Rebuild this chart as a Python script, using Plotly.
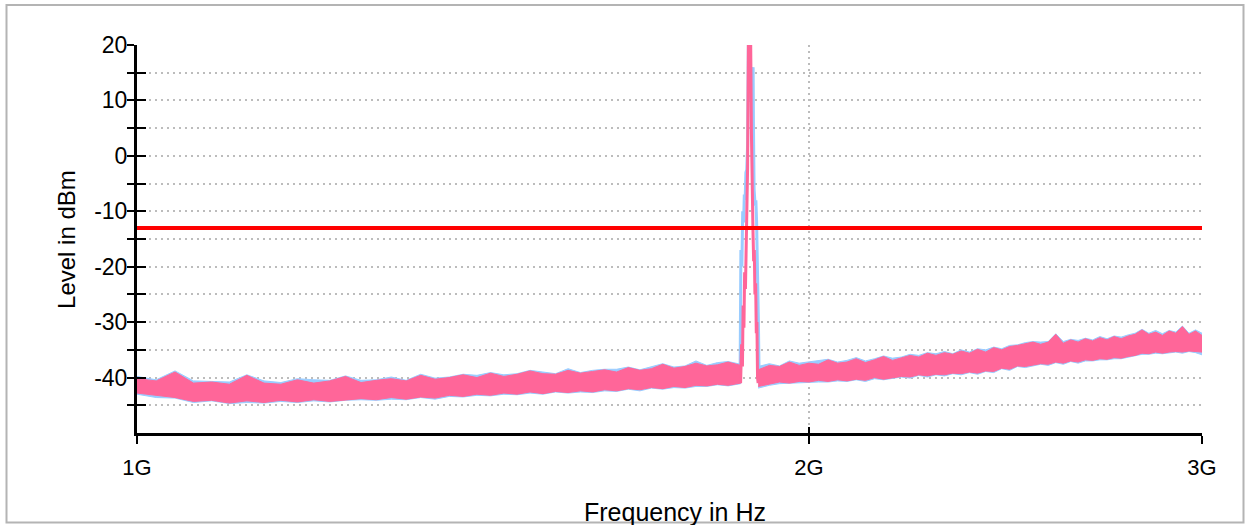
import math
import plotly.graph_objects as go

# Sweep frequencies (GHz) below and above the carrier
freq_low = [1.00, 1.02, 1.04, 1.06, 1.08, 1.10, 1.12, 1.14, 1.16, 1.18,
            1.20, 1.22, 1.24, 1.26, 1.28, 1.30, 1.32, 1.34, 1.36, 1.38,
            1.40, 1.42, 1.44, 1.46, 1.48, 1.50, 1.52, 1.54, 1.56, 1.58,
            1.60, 1.62, 1.64, 1.66, 1.68, 1.70, 1.72, 1.74, 1.76, 1.78,
            1.80, 1.82, 1.84, 1.864]
freq_high = [1.898, 1.92, 1.94, 1.96, 1.98,
             2.00, 2.02, 2.04, 2.06, 2.08, 2.10, 2.12, 2.14, 2.16, 2.18,
             2.20, 2.22, 2.24, 2.26, 2.28, 2.30, 2.32, 2.34, 2.36, 2.38,
             2.40, 2.42, 2.44, 2.46, 2.48, 2.50, 2.52, 2.54, 2.56, 2.58,
             2.60, 2.62, 2.64, 2.66, 2.68, 2.70, 2.72, 2.74, 2.76, 2.78,
             2.80, 2.82, 2.84, 2.86, 2.88, 2.90, 2.92, 2.94, 2.96, 2.98,
             3.00]

# Trace 1 (pink): max / min level of the noise floor in dBm
pink_low_max = [-40.2, -40.6, -39.0, -41.0, -40.8, -41.2, -39.6, -41.0, -41.2, -40.4,
                -41.0, -40.6, -39.8, -40.9, -40.5, -40.2, -40.6, -39.6, -40.3, -40.0,
                -39.5, -40.0, -39.2, -39.8, -39.4, -38.8, -39.3, -39.4, -38.7, -39.2,
                -38.9, -38.6, -39.0, -38.2, -38.7, -38.4, -37.6, -38.3, -38.0, -37.4,
                -37.9, -37.7, -37.2, -37.8]
pink_low_min = [-42.8, -43.2, -43.6, -44.3, -44.1, -44.6, -44.2, -44.5, -44.1, -44.4,
                -44.0, -44.3, -44.0, -43.8, -44.0, -43.6, -43.9, -43.5, -43.7, -43.2,
                -43.4, -43.0, -43.2, -42.8, -43.0, -42.6, -42.9, -42.5, -42.7, -42.4,
                -42.6, -42.2, -42.4, -42.0, -42.2, -41.8, -42.0, -41.6, -41.8, -41.4,
                -41.5, -41.2, -41.4, -41.0]
pink_high_max = [-38.6, -37.8, -38.0, -37.2, -37.8,
                 -37.4, -37.6, -36.8, -37.4, -37.2, -36.6, -37.3, -36.8, -36.2, -36.9,
                 -36.5, -36.0, -36.3, -35.6, -36.0, -35.5, -35.8, -35.2, -35.6, -34.9,
                 -35.4, -34.6, -35.0, -34.4, -34.2, -33.9, -33.6, -34.0, -33.6, -32.2,
                 -33.8, -33.2, -33.6, -33.0, -33.4, -32.8, -33.2, -32.6, -33.0, -32.5,
                 -32.2, -31.4, -32.2, -31.8, -32.4, -31.6, -32.0, -30.8, -32.2, -31.6,
                 -32.4]
pink_high_min = [-41.6, -41.2, -40.8, -41.0, -40.7,
                 -40.8, -40.5, -40.7, -40.4, -40.6, -40.3, -40.5, -40.0, -40.3, -40.0,
                 -39.8, -39.9, -39.5, -39.7, -39.4, -39.5, -39.2, -39.3, -39.0, -39.2,
                 -38.8, -38.9, -38.3, -38.5, -37.9, -38.0, -37.8, -37.5, -37.6, -37.2,
                 -37.4, -37.0, -37.2, -36.8, -36.9, -36.6, -36.7, -36.4, -36.5, -36.2,
                 -36.0, -35.6, -35.7, -35.4, -35.6, -35.4, -35.3, -35.4, -35.2, -35.3,
                 -35.4]

# Trace 2 (blue): max / min level of the noise floor in dBm
blue_low_max = [-39.8, -40.4, -38.8, -40.6, -40.7, -40.8, -39.5, -40.6, -40.9, -40.2,
                -40.4, -40.5, -39.7, -40.5, -40.4, -39.9, -40.5, -39.4, -40.1, -39.9,
                -39.4, -39.6, -39.1, -39.5, -39.3, -38.7, -39.0, -39.3, -38.4, -39.1,
                -38.7, -38.5, -38.5, -38.1, -38.6, -38.0, -37.5, -38.1, -37.9, -37.0,
                -37.8, -37.3, -37.1, -37.6]
blue_low_min = [-43.0, -43.6, -43.7, -44.5, -44.2, -44.7, -44.5, -44.6, -44.3, -44.5,
                -44.2, -44.4, -44.1, -44.0, -44.1, -43.9, -44.0, -43.6, -43.9, -43.4,
                -43.5, -43.2, -43.3, -43.0, -43.1, -42.8, -43.0, -42.6, -42.8, -42.6,
                -42.7, -42.4, -42.5, -42.1, -42.4, -41.9, -42.1, -41.8, -41.9, -41.6,
                -41.6, -41.3, -41.5, -41.1]
blue_high_max = [-38.0, -37.5, -37.9, -37.0, -37.4,
                 -37.2, -37.0, -36.7, -37.2, -36.9, -36.4, -37.0, -36.6, -36.1, -36.5,
                 -36.3, -35.8, -36.0, -35.5, -35.7, -35.3, -35.7, -35.0, -35.4, -34.8,
                 -35.0, -34.5, -34.8, -34.2, -34.1, -33.7, -33.5, -33.6, -33.5, -32.1,
                 -33.5, -33.1, -33.3, -32.9, -33.2, -32.6, -33.0, -32.5, -32.7, -32.3,
                 -32.0, -31.3, -32.0, -31.5, -32.1, -31.5, -31.8, -30.7, -32.0, -31.4,
                 -32.0]
blue_high_min = [-41.9, -41.4, -41.1, -41.1, -40.9,
                 -40.9, -40.8, -40.8, -40.6, -40.7, -40.4, -40.7, -40.2, -40.4, -40.2,
                 -39.9, -40.1, -39.6, -39.9, -39.5, -39.7, -39.3, -39.5, -39.1, -39.4,
                 -38.9, -39.1, -38.4, -38.7, -38.0, -38.2, -37.9, -37.6, -37.8, -37.3,
                 -37.6, -37.1, -37.4, -37.0, -37.0, -36.8, -36.8, -36.6, -36.6, -36.4,
                 -36.1, -35.8, -35.8, -35.6, -35.7, -35.6, -35.4, -35.6, -35.3, -35.5,
                 -35.9]

# Carrier region (GHz, dBm)
pink_peak_freq = [1.8638, 1.8658, 1.8674, 1.8687, 1.8703, 1.8716, 1.8732, 1.8745,
                  1.8761, 1.8774, 1.8790, 1.8832, 1.8848, 1.8861, 1.8877, 1.8891,
                  1.8904, 1.8916, 1.8930, 1.8943, 1.8955, 1.8967, 1.8979]
pink_peak_level = [-41, -34, -38, -27, -31, -21, -24, -16,
                   -12, -2, 22, 22, 4, -8, -13, -19,
                   -17, -25, -23, -32, -30, -40, -41]
blue_peak_freq = [1.8628, 1.8644, 1.8663, 1.8679, 1.8697, 1.8710, 1.8726, 1.8741,
                  1.8757, 1.8774, 1.8790, 1.8813, 1.8852, 1.8868, 1.8881, 1.8887,
                  1.8900, 1.8920, 1.8935, 1.8949, 1.8965, 1.8984, 1.8998, 1.9008]
blue_peak_level = [-41, -17, -20, -10, -12, -7, -8, -3,
                   -2.5, 2, 22, 10, 10, 16, 16, 6,
                   -6, -9, -8, -12, -18, -30, -40, -41]

# Limit line (dBm)
limit_level = -13

x_ticks = [1, 2, 3]
x_tick_text = ["1G", "2G", "3G"]
y_ticks = [-45, -40, -35, -30, -25, -20, -15, -10, -5, 0, 5, 10, 15, 20]
y_tick_text = ["", "-40", "", "-30", "", "-20", "", "-10", "", "0", "", "10", "", "20"]

PINK = "#ff6699"
BLUE = "#99ccff"
GRID = "#bcbcbc"
FONT = "Liberation Sans, Arial, Helvetica, sans-serif"


def band(freqs, upper, lower):
    """Closed outline between the max and min envelopes."""
    xs = list(freqs) + list(reversed(freqs))
    ys = list(upper) + list(reversed(lower))
    return xs, ys


fig = go.Figure()

for color, segs, pf, pl in [
    (BLUE, [(freq_low, blue_low_max, blue_low_min), (freq_high, blue_high_max, blue_high_min)],
     blue_peak_freq, blue_peak_level),
    (PINK, [(freq_low, pink_low_max, pink_low_min), (freq_high, pink_high_max, pink_high_min)],
     pink_peak_freq, pink_peak_level),
]:
    for f, hi, lo in segs:
        bx, by = band(f, hi, lo)
        fig.add_trace(go.Scatter(x=bx, y=by, mode="lines", fill="toself",
                                 fillcolor=color, line=dict(color=color, width=1),
                                 hoverinfo="skip"))
    fig.add_trace(go.Scatter(x=pf, y=pl, mode="lines",
                             line=dict(color=color, width=3), hoverinfo="skip"))

# Limit line on the overlay axes so it sits above the traces
fig.add_trace(go.Scatter(x=[x_ticks[0], x_ticks[-1]], y=[limit_level, limit_level],
                         mode="lines", line=dict(color="#ff0000", width=4),
                         xaxis="x2", yaxis="y2", hoverinfo="skip"))

x_range = [0, math.log10(3)]
y_range = [-50, 20]

common_axis = dict(tickcolor="black", tickwidth=2, zeroline=False)

fig.update_layout(
    width=1247, height=525,
    margin=dict(l=137, r=45, t=45, b=92),
    paper_bgcolor="white", plot_bgcolor="white",
    showlegend=False,
    font=dict(family=FONT, color="black"),
    xaxis=dict(type="log", range=x_range, tickmode="array", tickvals=x_ticks,
               ticktext=x_tick_text, ticks="outside", ticklen=8,
               showline=True, linewidth=3, linecolor="black",
               showgrid=True, gridcolor=GRID, gridwidth=2, griddash="2px,4px",
               tickfont=dict(size=22, family=FONT), ticklabelstandoff=5,
               **common_axis),
    yaxis=dict(range=y_range, tickmode="array", tickvals=y_ticks, ticktext=y_tick_text,
               ticks="outside", ticklen=7,
               showline=True, linewidth=3, linecolor="black",
               showgrid=True, gridcolor=GRID, gridwidth=2, griddash="2px,4px",
               tickfont=dict(size=23, family=FONT), ticklabelstandoff=-5,
               **common_axis),
    xaxis2=dict(type="log", range=x_range, overlaying="x", side="bottom",
                tickmode="array", tickvals=x_ticks, ticks="inside", ticklen=6,
                showticklabels=False, showgrid=False, showline=False, **common_axis),
    yaxis2=dict(range=y_range, overlaying="y", side="left",
                tickmode="array", tickvals=y_ticks, ticks="inside", ticklen=9,
                showticklabels=False, showgrid=False, showline=False, **common_axis),
    annotations=[
        dict(text="Level in dBm", textangle=-90, xref="paper", yref="paper",
             x=-0.0667, y=0.5, xanchor="center", yanchor="middle", showarrow=False,
             font=dict(size=24, family=FONT)),
        dict(text="Frequency in Hz", xref="paper", yref="paper",
             x=0.5056, y=-0.2036, xanchor="center", yanchor="middle", showarrow=False,
             font=dict(size=25, family=FONT)),
    ],
    shapes=[
        dict(type="rect", xref="paper", yref="paper",
             x0=(6.5 - 137) / 1065, x1=(1243.5 - 137) / 1065,
             y0=(433 - 522.5) / 388, y1=(433 - 5) / 388,
             line=dict(color="#b4b4b4", width=2), fillcolor="rgba(0,0,0,0)", layer="below"),
    ],
)

fig.write_html("out.html")
